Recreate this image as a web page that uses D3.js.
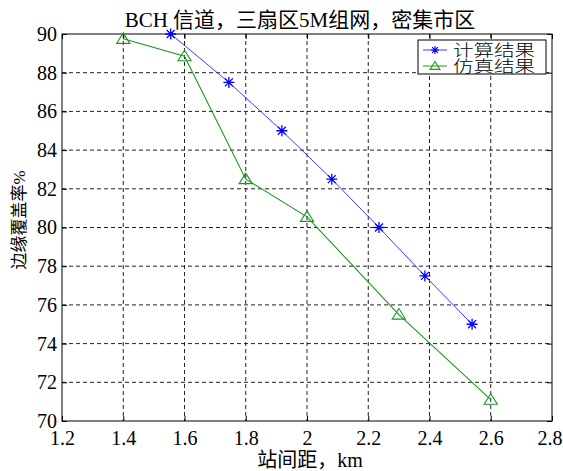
<!DOCTYPE html>
<html>
<head>
<meta charset="utf-8">
<script src="https://cdn.jsdelivr.net/npm/d3@7/dist/d3.min.js"></script>
<style>
  html, body { margin: 0; padding: 0; background: #fff; }
</style>
</head>
<body>
<svg id="chart" width="563" height="471"></svg>
<script>
// Edge coverage vs. inter-site distance
const calcDistance = [1.555, 1.745, 1.918, 2.081, 2.235, 2.385, 2.539];
const calcCoverage = [90, 87.5, 85, 82.5, 80, 77.5, 75];
const simDistance = [1.4, 1.6, 1.8, 2.0, 2.3, 2.6];
const simCoverage = [89.75, 88.85, 82.5, 80.55, 75.5, 71.1];
const xTicks = [1.2, 1.4, 1.6, 1.8, 2, 2.2, 2.4, 2.6, 2.8];
const yTicks = [70, 72, 74, 76, 78, 80, 82, 84, 86, 88, 90];
const seriesNames = ["计算结果", "仿真结果"];
const titleText = "BCH 信道，三扇区5M组网，密集市区";
const xLabel = "站间距，km";
const yLabel = "边缘覆盖率%";

const FONT = "'Liberation Serif', 'Times New Roman', 'Noto Sans CJK SC', serif";
const CJK = "'Noto Sans CJK SC', sans-serif";

const svg = d3.select("#chart").attr("font-family", FONT);
const m = { left: 62, right: 552, top: 34, bottom: 421 };
const x = d3.scaleLinear().domain([1.2, 2.8]).range([m.left, m.right]);
const y = d3.scaleLinear().domain([70, 90]).range([m.bottom, m.top]);

const blue = "#3a3aff", green = "#1f961f";

// dashed grid
const grid = svg.append("g");
xTicks.slice(1, -1).forEach(t => grid.append("line")
  .attr("x1", x(t)).attr("x2", x(t)).attr("y1", m.top).attr("y2", m.bottom)
  .attr("stroke", "#222").attr("stroke-width", 1).attr("stroke-dasharray", "4,3"));
yTicks.slice(1, -1).forEach(t => grid.append("line")
  .attr("y1", y(t)).attr("y2", y(t)).attr("x1", m.left).attr("x2", m.right)
  .attr("stroke", "#222").attr("stroke-width", 1).attr("stroke-dasharray", "4,3"));

// axes (inward ticks on all four sides)
const fmt = d => String(d);
const styleTicks = g => g.attr("font-family", FONT).attr("font-size", 20)
  .call(s => s.select(".domain").remove())
  .call(s => s.selectAll("text").attr("fill", "#000").attr("font-family", FONT));
svg.append("g").attr("transform", `translate(0,${m.bottom})`)
  .call(d3.axisBottom(x).tickValues(xTicks).tickFormat(fmt).tickSizeInner(-5).tickSizeOuter(0).tickPadding(10))
  .call(styleTicks)
  .call(g => g.selectAll(".tick text").filter(d => d === 2.8).attr("dx", -2.5));
svg.append("g").attr("transform", `translate(0,${m.top})`)
  .call(d3.axisTop(x).tickValues(xTicks).tickFormat("").tickSizeInner(-5).tickSizeOuter(0))
  .call(styleTicks);
svg.append("g").attr("transform", `translate(${m.left},0)`)
  .call(d3.axisLeft(y).tickValues(yTicks).tickFormat(fmt).tickSizeInner(-5).tickSizeOuter(0).tickPadding(5))
  .call(styleTicks);
svg.append("g").attr("transform", `translate(${m.right},0)`)
  .call(d3.axisRight(y).tickValues(yTicks).tickFormat("").tickSizeInner(-5).tickSizeOuter(0))
  .call(styleTicks);
svg.selectAll(".tick line").attr("stroke", "#000");

svg.append("rect").attr("x", m.left).attr("y", m.top)
  .attr("width", m.right - m.left).attr("height", m.bottom - m.top)
  .attr("fill", "none").attr("stroke", "#000").attr("stroke-width", 1);

// marker shapes
const starPath = (cx, cy, r) => {
  const d = r * 0.72;
  return `M${cx - r},${cy}H${cx + r}M${cx},${cy - r}V${cy + r}` +
         `M${cx - d},${cy - d}L${cx + d},${cy + d}M${cx - d},${cy + d}L${cx + d},${cy - d}`;
};
const triPath = (cx, cy, r) =>
  `M${cx},${cy - r}L${cx + r * 1.1},${cy + r * 0.75}L${cx - r * 1.1},${cy + r * 0.75}Z`;

const line = d3.line().x(d => x(d[0])).y(d => y(d[1]));
const calc = calcDistance.map((d, i) => [d, calcCoverage[i]]);
const sim = simDistance.map((d, i) => [d, simCoverage[i]]);

svg.append("path").datum(calc).attr("d", line).attr("fill", "none")
  .attr("stroke", blue).attr("stroke-width", 1);
svg.append("path").datum(sim).attr("d", line).attr("fill", "none")
  .attr("stroke", green).attr("stroke-width", 1.1);

svg.append("g").selectAll("path").data(calc).join("path")
  .attr("d", d => starPath(x(d[0]), y(d[1]), 5.5))
  .attr("stroke", "#0000ff").attr("stroke-width", 1.3).attr("fill", "none");
svg.append("g").selectAll("path").data(sim).join("path")
  .attr("d", d => triPath(x(d[0]), y(d[1]), 6))
  .attr("stroke", green).attr("stroke-width", 1.1).attr("fill", "none");

// legend
const lg = svg.append("g");
lg.append("rect").attr("x", 418).attr("y", 40).attr("width", 128).attr("height", 34)
  .attr("fill", "#fff").attr("stroke", "#000").attr("stroke-width", 1);
const rows = [
  { name: seriesNames[0], color: blue, mark: (cx, cy) => starPath(cx, cy, 4), mc: "#0000ff" },
  { name: seriesNames[1], color: green, mark: (cx, cy) => triPath(cx, cy, 4.5), mc: green }
];
rows.forEach((r, i) => {
  const cy = 50 + i * 16;
  lg.append("line").attr("x1", 423).attr("x2", 447).attr("y1", cy).attr("y2", cy)
    .attr("stroke", r.color).attr("stroke-width", 1);
  lg.append("path").attr("d", r.mark(435, cy)).attr("stroke", r.mc)
    .attr("stroke-width", 1.1).attr("fill", "none");
  lg.append("text").attr("x", 453).attr("y", cy + 6).attr("font-size", 16)
    .attr("font-family", CJK).attr("font-weight", 300)
    .attr("textLength", 82).attr("lengthAdjust", "spacingAndGlyphs").text(r.name);
});

// titles
svg.append("text").attr("x", 300).attr("y", 27).attr("text-anchor", "middle")
  .attr("font-size", 21).text(titleText);
svg.append("text").attr("x", 310).attr("y", 467).attr("text-anchor", "middle")
  .attr("font-size", 20).text(xLabel);
svg.append("text").attr("transform", "translate(25,220) rotate(-90)")
  .attr("text-anchor", "middle").attr("font-size", 17).text(yLabel);
</script>
</body>
</html>
